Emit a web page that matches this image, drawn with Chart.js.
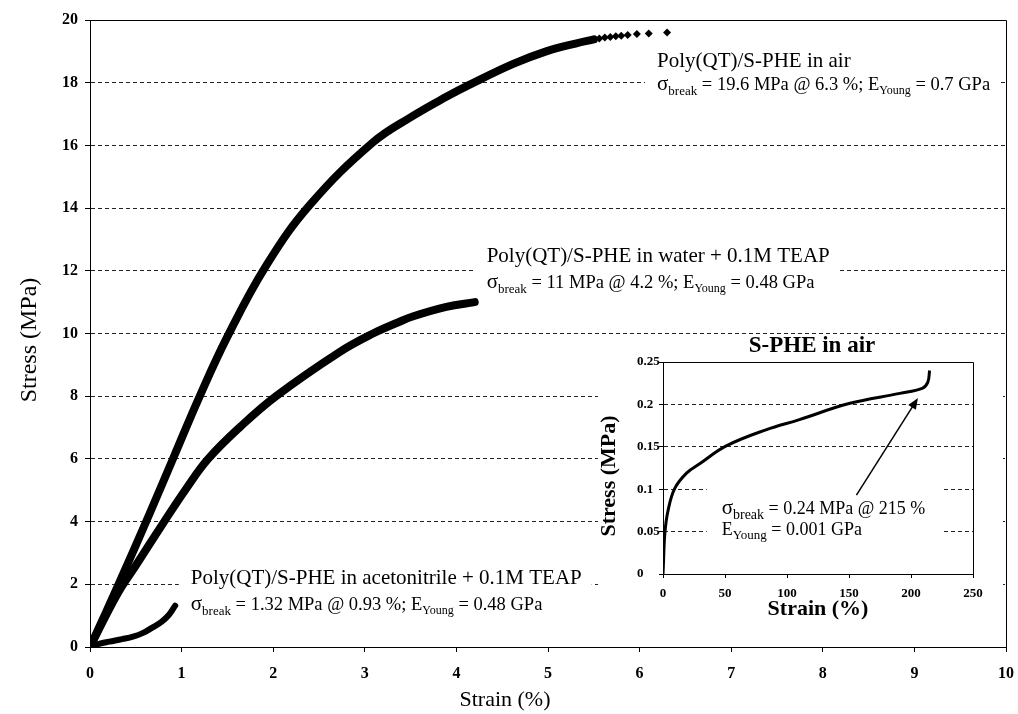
<!DOCTYPE html>
<html>
<head>
<meta charset="utf-8">
<title>Stress-strain curves of Poly(QT)/S-PHE</title>
<script src="https://cdn.jsdelivr.net/npm/chart.js@4.4.1/dist/chart.umd.min.js"></script>
<style>
  html, body { margin: 0; padding: 0; background: #fff; }
  #wrap { position: relative; width: 1018px; height: 714px; }
  #main { position: absolute; left: 0; top: 0; width: 1018px; height: 714px; }
  #inset { position: absolute; left: 598px; top: 325px; width: 408px; height: 297px; }
</style>
</head>
<body>
<div id="wrap">
  <canvas id="main" width="1018" height="714"></canvas>
  <canvas id="inset" width="408" height="297"></canvas>
</div>
<script>
// Poly(QT)/S-PHE in air
const airStrain = [0, 0.15, 0.32, 0.65, 0.92, 1.19, 1.5, 1.92, 2.4, 3.09, 3.53, 3.89, 4.14, 4.62, 4.98, 5.3, 5.5];
const airStress = [0, 0.95, 2.05, 4.25, 6.1, 7.95, 9.9, 12.15, 14.1, 16.1, 16.95, 17.55, 17.93, 18.6, 19.0, 19.25, 19.38];
// last sparse points before break
const airTailStrain = [5.56, 5.62, 5.68, 5.74, 5.8, 5.87, 5.97, 6.1, 6.3];
const airTailStress = [19.41, 19.44, 19.46, 19.48, 19.5, 19.52, 19.55, 19.57, 19.6];

// in water + 0.1M TEAP
const waterStrain = [0, 0.3, 0.5, 0.81, 1.05, 1.29, 1.65, 2.03, 2.72, 3.09, 3.36, 3.53, 3.89, 4.2];
const waterStress = [0, 1.7, 2.6, 4, 5.05, 6, 7.05, 8, 9.4, 10, 10.35, 10.55, 10.85, 11];

// in acetonitrile + 0.1M TEAP
const acnStrain = [0, 0.1, 0.21, 0.35, 0.47, 0.58, 0.68, 0.78, 0.86, 0.93];
const acnStress = [0, 0.1, 0.17, 0.25, 0.33, 0.45, 0.62, 0.8, 1.02, 1.32];

// S-PHE film alone (inset)
const spheStrain = [0, 0.3, 1.5, 4.1, 9.5, 19, 29.6, 51, 83, 110, 150, 191, 209, 213.5, 215];
const spheStress = [0, 0.01, 0.048, 0.075, 0.101, 0.119, 0.13, 0.151, 0.17, 0.182, 0.201, 0.213, 0.219, 0.226, 0.24];

const xTicks = [0, 1, 2, 3, 4, 5, 6, 7, 8, 9, 10];
const yTicks = [0, 2, 4, 6, 8, 10, 12, 14, 16, 18, 20];
const insetXTicks = [0, 50, 100, 150, 200, 250];
const insetYTicks = [0, 0.05, 0.1, 0.15, 0.2, 0.25];

const SERIF = "'Liberation Serif', 'Times New Roman', serif";
const toPoints = (xs, ys) => xs.map((x, i) => ({ x: x, y: ys[i] }));

function sigmaRuns(a, b) {
  return [['\u03C3', 21, 0], ['break', 13, 5], [' = ' + a + '; E', 18.5, 0], ['Young', 12, 4], [' = ' + b, 18.5, 0]];
}

// draw a line of text made of runs with their own size and baseline shift
function richText(ctx, x, y, runs, weight) {
  ctx.textAlign = 'left';
  ctx.textBaseline = 'alphabetic';
  let cx = x;
  runs.forEach(r => {
    ctx.font = (weight || '') + ' ' + r[1] + 'px ' + SERIF;
    ctx.fillText(r[0], cx, y + r[2]);
    cx += ctx.measureText(r[0]).width;
  });
  return cx - x;
}

function runsWidth(ctx, runs) {
  let w = 0;
  runs.forEach(r => {
    ctx.font = r[1] + 'px ' + SERIF;
    w += ctx.measureText(r[0]).width;
  });
  return w;
}

// labels next to each curve, placed in data units
const mainNotes = [
  { x: 6.19, yTitle: 18.5, ySub: 17.77, title: 'Poly(QT)/S-PHE in air', sub: sigmaRuns('19.6 MPa @ 6.3 %', '0.7 GPa') },
  { x: 4.33, yTitle: 12.28, ySub: 11.45, title: 'Poly(QT)/S-PHE in water + 0.1M TEAP', sub: sigmaRuns('11 MPa @ 4.2 %', '0.48 GPa') },
  { x: 1.10, yTitle: 2.01, ySub: 1.18, title: 'Poly(QT)/S-PHE in acetonitrile + 0.1M TEAP', sub: sigmaRuns('1.32 MPa @ 0.93 %', '0.48 GPa') }
];

const mainDecor = {
  id: 'mainDecor',
  beforeDatasetsDraw(chart) {
    const ctx = chart.ctx, xs = chart.scales.x, ys = chart.scales.y;
    ctx.save();
    ctx.fillStyle = '#fff';
    // area taken by the inset chart
    ctx.fillRect(598, 340, 405, 282);
    mainNotes.forEach(n => {
      const left = xs.getPixelForValue(n.x);
      ctx.font = '21px ' + SERIF;
      const w = Math.max(ctx.measureText(n.title).width, runsWidth(ctx, n.sub));
      const top = ys.getPixelForValue(n.yTitle) - 21;
      const bottom = ys.getPixelForValue(n.ySub) + 9;
      ctx.fillRect(left - 12, top, w + 22, bottom - top);
    });
    ctx.restore();
  },
  afterDraw(chart) {
    const ctx = chart.ctx, a = chart.chartArea, xs = chart.scales.x, ys = chart.scales.y;
    ctx.save();
    ctx.strokeStyle = '#000';
    ctx.lineWidth = 1;
    ctx.beginPath();
    ctx.moveTo(a.left, a.top + 0.5);
    ctx.lineTo(a.right + 0.5, a.top + 0.5);
    ctx.lineTo(a.right + 0.5, a.bottom);
    ctx.stroke();

    ctx.fillStyle = '#000';
    mainNotes.forEach(n => {
      const left = xs.getPixelForValue(n.x);
      ctx.font = '21px ' + SERIF;
      ctx.textAlign = 'left';
      ctx.textBaseline = 'alphabetic';
      ctx.fillText(n.title, left, ys.getPixelForValue(n.yTitle));
      richText(ctx, left, ys.getPixelForValue(n.ySub), n.sub);
    });

    // axis titles
    ctx.textAlign = 'center';
    ctx.textBaseline = 'middle';
    ctx.font = '22px ' + SERIF;
    ctx.fillText('Strain (%)', 505, 700);
    ctx.font = '24px ' + SERIF;
    ctx.translate(30, 340);
    ctx.rotate(-Math.PI / 2);
    ctx.fillText('Stress (MPa)', 0, 0);
    ctx.restore();
  }
};

new Chart(document.getElementById('main'), {
  type: 'scatter',
  data: {
    datasets: [
      { data: toPoints(airStrain, airStress), showLine: true, borderColor: '#000', borderWidth: 8,
        borderCapStyle: 'round', tension: 0.4, pointRadius: 0 },
      { data: toPoints(airTailStrain, airTailStress), showLine: false, pointStyle: 'rectRot',
        pointRadius: 4, backgroundColor: '#000', borderColor: '#000', borderWidth: 0 },
      { data: toPoints(waterStrain, waterStress), showLine: true, borderColor: '#000', borderWidth: 8,
        borderCapStyle: 'round', tension: 0.4, pointRadius: 0 },
      { data: toPoints(acnStrain, acnStress), showLine: true, borderColor: '#000', borderWidth: 6,
        borderCapStyle: 'round', tension: 0.4, pointRadius: 0 }
    ]
  },
  options: {
    responsive: false,
    animation: false,
    layout: { padding: { top: 20, right: 12, left: 0, bottom: 0 } },
    plugins: { legend: { display: false }, tooltip: { enabled: false } },
    scales: {
      x: {
        type: 'linear', min: xTicks[0], max: xTicks[xTicks.length - 1],
        afterBuildTicks: s => { s.ticks = xTicks.map(v => ({ value: v })); },
        afterFit: s => { s.height = 67; s.paddingLeft = 0; s.paddingRight = 0; },
        ticks: { color: '#000', padding: 12, font: { family: SERIF, size: 16, weight: 'bold' } },
        grid: { drawOnChartArea: false, tickLength: 5, color: '#000' },
        border: { color: '#000', width: 1 }
      },
      y: {
        type: 'linear', min: yTicks[0], max: yTicks[yTicks.length - 1],
        afterBuildTicks: s => { s.ticks = yTicks.map(v => ({ value: v })); },
        afterFit: s => { s.width = 90; },
        ticks: { color: '#000', padding: 7, font: { family: SERIF, size: 16, weight: 'bold' } },
        grid: { color: '#222', lineWidth: 1, tickLength: 5, tickColor: '#000', tickBorderDash: [] },
        border: { color: '#000', width: 1, dash: [4, 3] }
      }
    }
  },
  plugins: [mainDecor]
});

// inset: S-PHE in air
const insetNote = {
  x: 47.3, y1: 0.0708, y2: 0.046,
  line1: [['\u03C3', 21, 0], ['break', 14, 5], [' = 0.24 MPa @ 215 %', 18, 0]],
  line2: [['E', 18, 0], ['Young', 13, 4], [' = 0.001 GPa', 18, 0]],
  arrowFrom: [156, 0.093], arrowTo: [205.6, 0.2075]
};

const insetDecor = {
  id: 'insetDecor',
  beforeDatasetsDraw(chart) {
    const ctx = chart.ctx, xs = chart.scales.x, ys = chart.scales.y;
    const left = xs.getPixelForValue(insetNote.x);
    const w = Math.max(runsWidth(ctx, insetNote.line1), runsWidth(ctx, insetNote.line2));
    const top = ys.getPixelForValue(insetNote.y1) - 29;
    const bottom = ys.getPixelForValue(insetNote.y2) + 13;
    ctx.save();
    ctx.fillStyle = '#fff';
    ctx.fillRect(left - 15, top, w + 33, bottom - top);
    ctx.restore();
  },
  afterDraw(chart) {
    const ctx = chart.ctx, a = chart.chartArea, xs = chart.scales.x, ys = chart.scales.y;
    ctx.save();
    ctx.strokeStyle = '#000';
    ctx.lineWidth = 1;
    ctx.beginPath();
    ctx.moveTo(a.left, a.top + 0.5);
    ctx.lineTo(a.right + 0.5, a.top + 0.5);
    ctx.lineTo(a.right + 0.5, a.bottom);
    ctx.stroke();

    ctx.fillStyle = '#000';
    const left = xs.getPixelForValue(insetNote.x);
    richText(ctx, left, ys.getPixelForValue(insetNote.y1), insetNote.line1);
    richText(ctx, left, ys.getPixelForValue(insetNote.y2), insetNote.line2);

    // arrow to the break point
    const x1 = xs.getPixelForValue(insetNote.arrowFrom[0]), y1 = ys.getPixelForValue(insetNote.arrowFrom[1]);
    const x2 = xs.getPixelForValue(insetNote.arrowTo[0]), y2 = ys.getPixelForValue(insetNote.arrowTo[1]);
    const ang = Math.atan2(y2 - y1, x2 - x1);
    ctx.lineWidth = 1.5;
    ctx.beginPath();
    ctx.moveTo(x1, y1);
    ctx.lineTo(x2 - 8 * Math.cos(ang), y2 - 8 * Math.sin(ang));
    ctx.stroke();
    ctx.beginPath();
    ctx.moveTo(x2, y2);
    ctx.lineTo(x2 - 11 * Math.cos(ang) + 4.5 * Math.sin(ang), y2 - 11 * Math.sin(ang) - 4.5 * Math.cos(ang));
    ctx.lineTo(x2 - 11 * Math.cos(ang) - 4.5 * Math.sin(ang), y2 - 11 * Math.sin(ang) + 4.5 * Math.cos(ang));
    ctx.closePath();
    ctx.fill();

    // titles
    ctx.textAlign = 'center';
    ctx.textBaseline = 'middle';
    ctx.font = 'bold 23px ' + SERIF;
    ctx.fillText('S-PHE in air', 214, 21);
    ctx.font = 'bold 22px ' + SERIF;
    ctx.fillText('Strain (%)', (a.left + a.right) / 2, 284);
    ctx.translate(11, (a.top + a.bottom) / 2 + 8);
    ctx.rotate(-Math.PI / 2);
    ctx.fillText('Stress (MPa)', 0, 0);
    ctx.restore();
  }
};

new Chart(document.getElementById('inset'), {
  type: 'scatter',
  data: {
    datasets: [
      { data: toPoints(spheStrain, spheStress), showLine: true, borderColor: '#000', borderWidth: 3,
        tension: 0.4, pointRadius: 0 }
    ]
  },
  options: {
    responsive: false,
    animation: false,
    layout: { padding: { top: 37, right: 33, left: 39, bottom: 0 } },
    plugins: { legend: { display: false }, tooltip: { enabled: false } },
    scales: {
      x: {
        type: 'linear', min: insetXTicks[0], max: insetXTicks[insetXTicks.length - 1],
        afterBuildTicks: s => { s.ticks = insetXTicks.map(v => ({ value: v })); },
        afterFit: s => { s.height = 48; s.paddingLeft = 0; s.paddingRight = 0; },
        ticks: { color: '#000', padding: 8, font: { family: SERIF, size: 13, weight: 'bold' } },
        grid: { drawOnChartArea: false, tickLength: 4, color: '#000' },
        border: { color: '#000', width: 1 }
      },
      y: {
        type: 'linear', min: insetYTicks[0], max: insetYTicks[insetYTicks.length - 1],
        afterBuildTicks: s => { s.ticks = insetYTicks.map(v => ({ value: v })); },
        afterFit: s => { s.width = 26; },
        ticks: { color: '#000', padding: 4, crossAlign: 'far', font: { family: SERIF, size: 13, weight: 'bold' },
          callback: v => String(+v.toFixed(2)) },
        grid: { color: '#222', lineWidth: 1, tickLength: 4, tickColor: '#000', tickBorderDash: [] },
        border: { color: '#000', width: 1, dash: [4, 3] }
      }
    }
  },
  plugins: [insetDecor]
});
</script>
</body>
</html>
